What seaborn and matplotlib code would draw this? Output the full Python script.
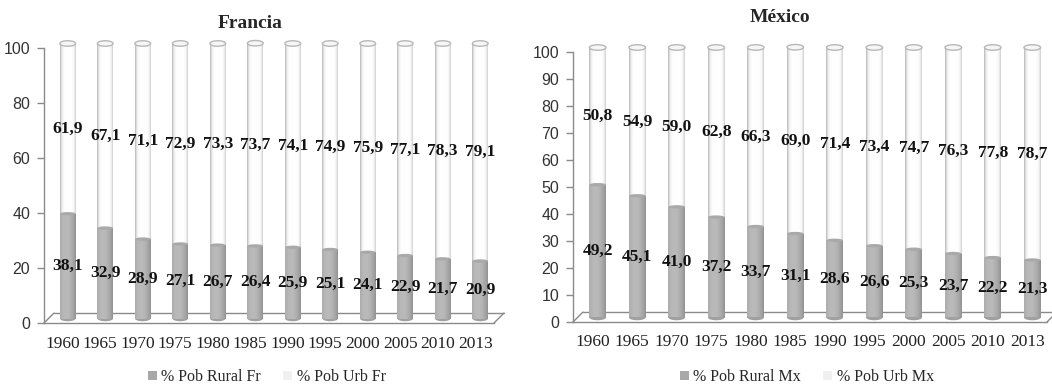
import numpy as np
import matplotlib
matplotlib.use("Agg")
import matplotlib.pyplot as plt
import seaborn as sns
from matplotlib.patches import Ellipse, Patch
from matplotlib.lines import Line2D
from matplotlib.transforms import ScaledTranslation

# Population shares (%) by year
years = ["1960", "1965", "1970", "1975", "1980", "1985",
         "1990", "1995", "2000", "2005", "2010", "2013"]
rural_fr = [38.1, 32.9, 28.9, 27.1, 26.7, 26.4, 25.9, 25.1, 24.1, 22.9, 21.7, 20.9]
urb_fr = [61.9, 67.1, 71.1, 72.9, 73.3, 73.7, 74.1, 74.9, 75.9, 77.1, 78.3, 79.1]
rural_mx = [49.2, 45.1, 41.0, 37.2, 33.7, 31.1, 28.6, 26.6, 25.3, 23.7, 22.2, 21.3]
urb_mx = [50.8, 54.9, 59.0, 62.8, 66.3, 69.0, 71.4, 73.4, 74.7, 76.3, 77.8, 78.7]

sns.set_style("white")
plt.rcParams["font.family"] = ["Liberation Serif", "DejaVu Serif"]

W, H = 1052, 390
fig = plt.figure(figsize=(W / 100, H / 100), dpi=100)

AXIS = "#8a8a8a"
RURAL = "#a8a8a8"
URB_LEG = "#f0f0f0"


def fmt(v):
    return f"{v:.1f}".replace(".", ",")


def shade(ax, patch, tr, dark, light, center, power):
    """Overlay a horizontal cylinder-like gradient clipped to a bar."""
    x0, w = patch.get_x(), patch.get_width()
    y0, h = patch.get_y(), patch.get_height()
    t = np.linspace(0, 1, 96)
    prof = np.clip(1 - np.abs((t - center) / max(center, 1 - center)) ** power, 0, 1)
    d = np.array(matplotlib.colors.to_rgb(dark))
    l = np.array(matplotlib.colors.to_rgb(light))
    rgb = d[None, :] + (l - d)[None, :] * prof[:, None]
    img = rgb[None, :, :]
    im = ax.imshow(img, extent=[x0, x0 + w, y0, y0 + h], aspect="auto",
                   origin="lower", interpolation="bilinear", zorder=3)
    im.set_transform(tr)
    im.set_clip_path(patch)
    im.set_clip_on(True)
    return im


def panel(ax, rural, urban, yticks, ax_h_px):
    total = [r + u for r, u in zip(rural, urban)]
    off = ScaledTranslation(5 / 100, 4.5 / 100, fig.dpi_scale_trans)
    tr = ax.transData + off

    # floor of the 3D plot area
    ax.add_line(Line2D([0, 1], [0, 0], color=AXIS, lw=1.0, clip_on=False,
                       transform=ax.transAxes + ScaledTranslation(0.10, 0.10, fig.dpi_scale_trans),
                       zorder=1))
    for xa in (0, 1):
        ax.annotate("", xy=(xa, 0), xycoords="axes fraction",
                    xytext=(10, 10), textcoords="offset pixels",
                    arrowprops=dict(arrowstyle="-", color=AXIS, lw=1.0,
                                    shrinkA=0, shrinkB=0), zorder=1,
                    annotation_clip=False)

    sns.barplot(x=years, y=total, color="white", saturation=1, width=0.42,
                errorbar=None, ax=ax, linewidth=0, zorder=2)
    n_urb = len(ax.patches)
    sns.barplot(x=years, y=rural, color=RURAL, saturation=1, width=0.42,
                errorbar=None, ax=ax, linewidth=0, zorder=4)
    urb_bars = ax.patches[:n_urb]
    rur_bars = ax.patches[n_urb:]

    ell_h = 5.5 * 100 / ax_h_px
    for p in urb_bars:
        p.set_transform(tr)
        p.set_clip_on(False)
        shade(ax, p, tr, "#b0b0b0", "#ffffff", 0.52, 5).set_zorder(3)
        cx = p.get_x() + p.get_width() / 2
        ax.add_patch(Ellipse((cx, p.get_height()), p.get_width(), ell_h,
                             facecolor="#f6f6f6", edgecolor="#b8b8b8", lw=1.0,
                             transform=tr, clip_on=False, zorder=6))
    for p in rur_bars:
        p.set_transform(tr)
        p.set_clip_on(False)
        shade(ax, p, tr, "#929292", "#bababa", 0.38, 2.0).set_zorder(5)
        cx = p.get_x() + p.get_width() / 2
        ax.add_patch(Ellipse((cx, 0), p.get_width(), ell_h, facecolor="#a0a0a0",
                             edgecolor="none", transform=tr, clip_on=False, zorder=4))
        ax.add_patch(Ellipse((cx, p.get_height()), p.get_width(), ell_h * 0.6,
                             facecolor="#a9a9a9", edgecolor="none",
                             transform=tr, clip_on=False, zorder=5.5))

    for i, (r, u) in enumerate(zip(rural, urban)):
        ax.text(i, r / 2, fmt(r), ha="center", va="center", fontsize=12.5,
                fontweight="bold", color="#111111", transform=tr, zorder=8)
        ax.text(i, r + u / 2, fmt(u), ha="center", va="center", fontsize=12.5,
                fontweight="bold", color="#111111", transform=tr, zorder=8)

    ax.set_xlim(-0.5, len(years) - 0.5)
    ax.set_ylim(0, 100)
    ax.set_yticks(yticks)
    ax.set_yticklabels([str(v) for v in yticks], family=["Liberation Sans", "DejaVu Sans"],
                       fontsize=11.5, color="#333333")
    ax.set_xticks(range(len(years)))
    ax.set_xticklabels(years, fontsize=12.5, color="#222222")
    ax.set_xticks(np.arange(-0.5, len(years)), minor=True)
    ax.tick_params(axis="x", which="major", length=0, pad=9)
    ax.tick_params(axis="x", which="minor", length=5, width=1, color=AXIS, direction="out")
    ax.tick_params(axis="y", length=5, width=1, color=AXIS, direction="out", pad=5, left=True)
    ax.set_xlabel("")
    ax.set_ylabel("")
    for s in ("top", "right"):
        ax.spines[s].set_visible(False)
    for s in ("left", "bottom"):
        ax.spines[s].set_color(AXIS)
        ax.spines[s].set_linewidth(1.0)
        ax.spines[s].set_zorder(1)


ax_fr = fig.add_axes([44 / W, 1 - 323 / H, 450 / W, 275 / H])
ax_mx = fig.add_axes([573 / W, 1 - 322 / H, 474 / W, 270 / H])
ax_fr.patch.set_alpha(0)
ax_mx.patch.set_alpha(0)

panel(ax_fr, rural_fr, urb_fr, list(range(0, 101, 20)), 275)
panel(ax_mx, rural_mx, urb_mx, list(range(0, 101, 10)), 270)

fig.text(250 / W, 1 - 23 / H, "Francia", ha="center", va="center",
         fontsize=14, fontweight="bold")
fig.text(780 / W, 1 - 18 / H, "México", ha="center", va="center",
         fontsize=14, fontweight="bold")

for ax, labs, cx in ((ax_fr, ["% Pob Rural Fr", "% Pob Urb Fr"], 267),
                     (ax_mx, ["% Pob Rural Mx", "% Pob Urb Mx"], 807)):
    handles = [Patch(facecolor=RURAL, edgecolor="none"),
               Patch(facecolor=URB_LEG, edgecolor="none")]
    ax.legend(handles, labs, loc="center", bbox_to_anchor=(cx / W, 1 - 377 / H),
              bbox_transform=fig.transFigure, ncol=2, frameon=False,
              fontsize=11.5, handlelength=0.55, handleheight=0.55,
              handletextpad=0.3, columnspacing=1.4, borderpad=0)

fig.savefig("out.png", dpi=100, facecolor="white")
